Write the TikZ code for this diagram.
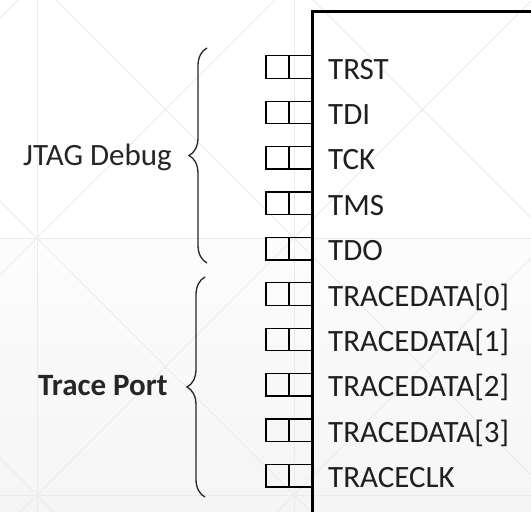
\documentclass[tikz,border=0pt]{standalone}
\usepackage{fontspec}
\setmainfont{Carlito}
\usetikzlibrary{decorations.pathreplacing}
\begin{document}
\begin{tikzpicture}[x=1pt,y=-1pt,
  pinbox/.style={draw=black, line width=1.3pt, minimum width=46pt,
    minimum height=22.5pt, inner sep=0pt, outer sep=0pt,
    path picture={\draw[line width=1.3pt]
      (path picture bounding box.north) -- (path picture bounding box.south);}},
  sig/.style={anchor=base west, inner sep=0pt,
    font=\fontsize{31}{37}\selectfont, text=black!88},
  grp/.style={anchor=base west, inner sep=0pt,
    font=\fontsize{31}{37}\selectfont, text=black!85},
  chipline/.style={draw=black, line width=3pt},
  bracestyle/.style={draw=black!85, line width=1.3pt, decorate,
    decoration={brace, amplitude=18pt}},
  wm/.style={draw=black!8, line width=0.8pt}
]
% page and faint background pattern
\useasboundingbox (0,0) rectangle (531,512);
\clip (0,0) rectangle (531,512);
\fill[white] (0,0) rectangle (531,238);
\shade[top color=black!1, bottom color=black!4] (0,238) rectangle (531,512);
\foreach \x in {37,294} \draw[wm] (\x,-10) -- (\x,520);
\foreach \y in {238,495} \draw[wm] (-10,\y) -- (540,\y);
\foreach \c in {-458,-201,56,313} \draw[wm] (\c-600,-600) -- (\c+1100,1100);
\foreach \d in {18,275,532,789} \draw[wm] (\d+600,-600) -- (\d-1100,1100);

% pins and signal names
\foreach \i/\t in {0/{TRST},1/{TDI},2/{TCK},3/{TMS},4/{TDO},
                   5/{TRACEDATA[0]},6/{TRACEDATA[1]},7/{TRACEDATA[2]},
                   8/{TRACEDATA[3]},9/{TRACECLK}}{
  \node[pinbox] (p\i) at (289,67+45.4*\i) {};
  \node[sig] (l\i) at (328,79+45.4*\i) {\t};
}

% chip outline (continues past the page)
\draw[chipline] (600,11) -- (312.5,11) -- (312.5,600);

% group braces and labels
\coordinate (jtop) at (207,48);
\coordinate (jbot) at (207,263);
\coordinate (ttop) at (205,277);
\coordinate (tbot) at (205,497);
\draw[bracestyle] (jbot) -- (jtop);
\draw[bracestyle] (tbot) -- (ttop);
\node[grp] (jtag) at (23,165) {JTAG Debug};
\node[grp] (trace) at (38,395) {\textbf{Trace Port}};
\end{tikzpicture}
\end{document}
